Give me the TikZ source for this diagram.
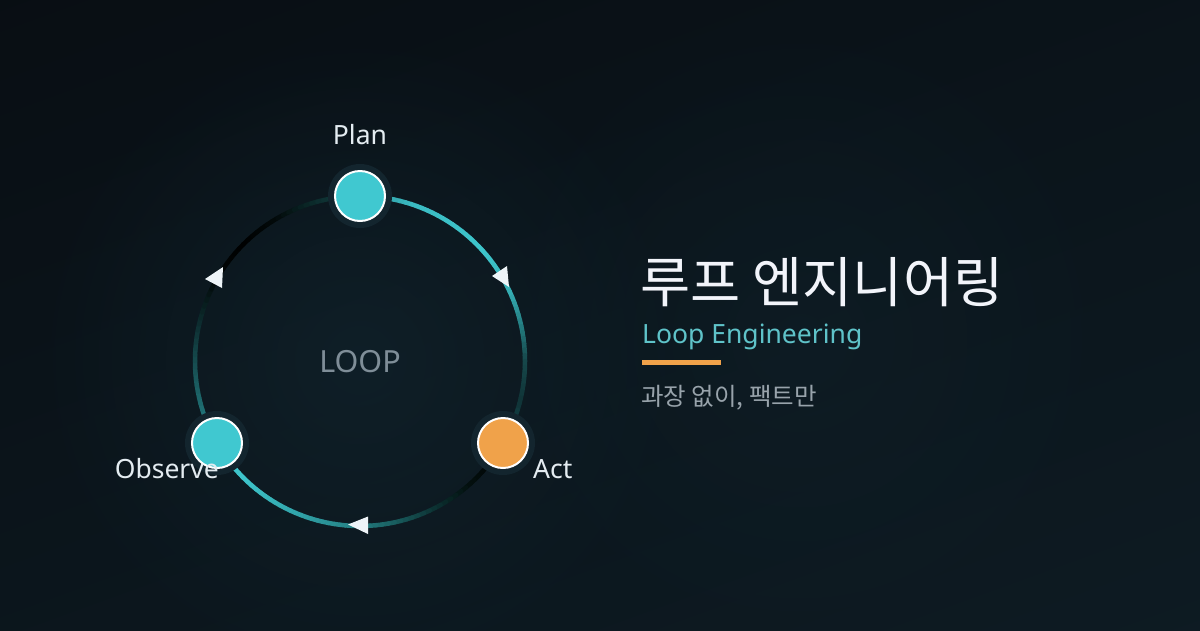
\documentclass[tikz,border=0pt]{standalone}
\usepackage{fontspec}
\setmainfont{Noto Sans}
\newfontfamily\krfont{Noto Sans CJK KR}
\usetikzlibrary{fadings}
\definecolor{bgtop}{HTML}{080D12}
\definecolor{bgbot}{HTML}{0E1C24}
\definecolor{glowc}{HTML}{10222B}
\definecolor{tealc}{HTML}{40C8D0}
\definecolor{orangec}{HTML}{F0A24A}
\definecolor{haloc}{HTML}{13252E}
\definecolor{labelc}{HTML}{E4ECF1}
\definecolor{loopc}{HTML}{7F8E98}
\definecolor{titlec}{HTML}{F2F4FA}
\definecolor{subc}{HTML}{5FC3C9}
\definecolor{greyc}{HTML}{98A3AB}
\definecolor{arrowc}{HTML}{EEF4F8}
% arc key colours
\definecolor{a1}{HTML}{2B8F94}\definecolor{a2}{HTML}{3BBCC3}\definecolor{a3}{HTML}{3EC6CC}
\definecolor{a4}{HTML}{36B0B6}\definecolor{a5}{HTML}{22767A}\definecolor{a6}{HTML}{17494C}
\definecolor{a7}{HTML}{0F3336}\definecolor{a8}{HTML}{18565A}
\definecolor{b1}{HTML}{000000}\definecolor{b2}{HTML}{03100F}\definecolor{b3}{HTML}{0D3536}
\definecolor{b4}{HTML}{1A6163}\definecolor{b5}{HTML}{268589}\definecolor{b6}{HTML}{32A7AD}
\definecolor{b7}{HTML}{3EC4CA}\definecolor{b8}{HTML}{3FC6CC}
\definecolor{c1}{HTML}{2C9196}\definecolor{c2}{HTML}{1E6A6E}\definecolor{c3}{HTML}{164C50}
\definecolor{c4}{HTML}{0C2A2C}\definecolor{c5}{HTML}{020808}\definecolor{c6}{HTML}{000000}
\definecolor{c7}{HTML}{020A0A}\definecolor{c8}{HTML}{0C2C2D}\definecolor{c9}{HTML}{144446}
\tikzfading[name=glowfade, inner color=transparent!0, outer color=transparent!100]
\tikzset{
  arcline/.style={line width=4.5pt, line cap=round},
  halo/.style={fill=haloc},
  stepnode/.style={circle, draw=white, line width=2pt, minimum size=50pt, inner sep=0pt},
  lbl/.style={text=labelc, font=\fontsize{26.5}{30}\selectfont, inner sep=0pt},
  arrowtri/.style={fill=arrowc},
}
\newcommand{\gseg}[4]{%
  \pgfmathtruncatemacro{\nn}{max(2,abs(#2-(#1))/2)}%
  \foreach \j in {1,...,\nn}{%
    \pgfmathsetmacro{\aa}{-((#1)+((#2)-(#1))*(\j-1)/\nn)}%
    \pgfmathsetmacro{\bb}{-((#1)+((#2)-(#1))*\j/\nn)}%
    \pgfmathsetmacro{\pp}{100*(\j-0.5)/\nn}%
    \draw[arcline, color=#4!\pp!#3] (C) ++(\aa:165) arc[start angle=\aa, end angle=\bb, radius=165];
  }}
\begin{document}
\begin{tikzpicture}[x=1pt, y=-1pt]
\useasboundingbox (0,0) rectangle (1200,630);
% background
\shade[top color=bgtop, bottom color=bgbot, shading angle=20] (-200,-200) rectangle (1400,830);
\fill[glowc, opacity=0.8, path fading=glowfade] (360,360) circle (330);
\fill[glowc, opacity=0.5, path fading=glowfade] (800,340) circle (330);
\coordinate (C) at (360,361);
% arcs
\gseg{90}{70}{a1}{a2}\gseg{70}{40}{a2}{a3}\gseg{40}{25}{a3}{a4}\gseg{25}{10}{a4}{a5}
\gseg{10}{0}{a5}{a6}\gseg{0}{-15}{a6}{a7}\gseg{-15}{-30}{a7}{a8}
\gseg{-30}{-50}{b1}{b2}\gseg{-50}{-65}{b2}{b3}\gseg{-65}{-80}{b3}{b4}\gseg{-80}{-95}{b4}{b5}
\gseg{-95}{-115}{b5}{b6}\gseg{-115}{-135}{b6}{b7}\gseg{-135}{-150}{b7}{b8}
\gseg{210}{195}{c1}{c2}\gseg{195}{180}{c2}{c3}\gseg{180}{165}{c3}{c4}\gseg{165}{150}{c4}{c5}
\gseg{150}{135}{c5}{c6}\gseg{135}{120}{c6}{c7}\gseg{120}{105}{c7}{c8}\gseg{105}{90}{c8}{c9}
% arrowheads
\fill[arrowtri] (492,276) -- (507,266) -- (509,287) -- cycle;
\fill[arrowtri] (205,279) -- (223,267) -- (222,288) -- cycle;
\fill[arrowtri] (348,524.5) -- (368,516.5) -- (368,534) -- cycle;
% nodes
\fill[halo] (360,196) circle (32);
\fill[halo] (503,443) circle (32);
\fill[halo] (217,443) circle (32);
\node[stepnode, fill=tealc] (plan) at (360,196) {};
\node[stepnode, fill=orangec] (act) at (503,443) {};
\node[stepnode, fill=tealc] (observe) at (217,443) {};
% labels
\node[lbl, anchor=base] (planlbl) at (360,144) {Plan};
\node[lbl, anchor=base east] (observelbl) at (219,478) {Observe};
\node[lbl, anchor=base west] (actlbl) at (533,478) {Act};
\node[text=loopc, font=\fontsize{30.5}{34}\selectfont, anchor=base, inner sep=0pt] (looplbl) at (360,372) {LOOP};
% title block
\node[text=titlec, font=\krfont\fontsize{54.5}{62}\selectfont, anchor=base west, inner sep=0pt] (title) at (640,302) {루프 엔지니어링};
\node[text=subc, font=\fontsize{26.5}{30}\selectfont, anchor=base west, inner sep=0pt] (subtitle) at (642,343) {Loop Engineering};
\fill[orangec] (642,360) rectangle (721,365);
\node[text=greyc, font=\krfont\fontsize{24.5}{28}\selectfont, anchor=base west, inner sep=0pt] (tagline) at (641,405) {과장 없이, 팩트만};
\end{tikzpicture}
\end{document}
